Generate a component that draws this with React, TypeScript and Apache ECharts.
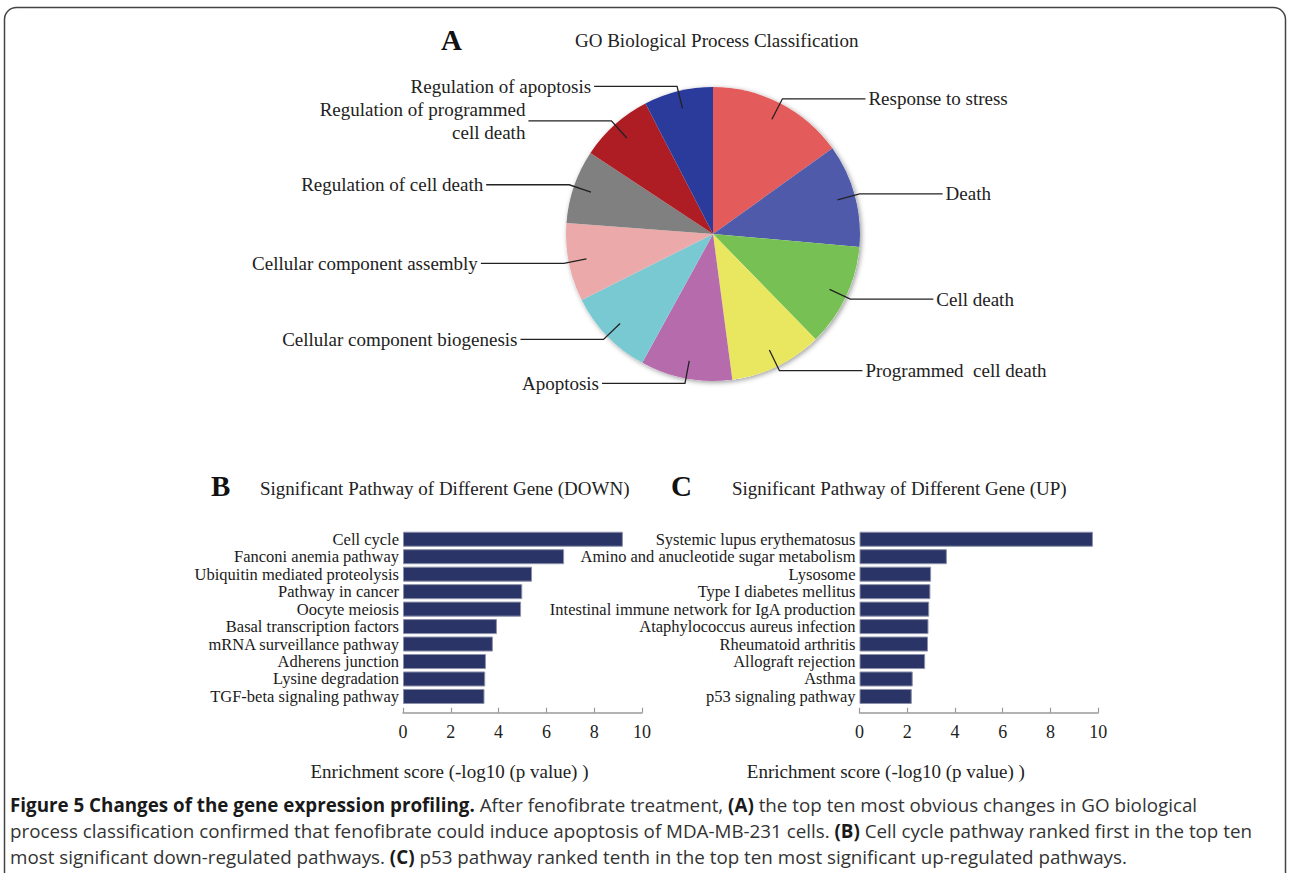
import React, { useEffect, useRef } from "react";
import * as echarts from "echarts";

const pieCategories = [
  "Response to stress",
  "Death",
  "Cell death",
  "Programmed  cell death",
  "Apoptosis",
  "Cellular component biogenesis",
  "Cellular component assembly",
  "Regulation of cell death",
  "Regulation of programmed\ncell death",
  "Regulation of apoptosis",
];
const pieValues = [15.1, 11.3, 11.3, 10.2, 10.1, 9.6, 8.6, 8.1, 8.1, 7.6];
const pieColors = [
  "#E35B5A", "#4F5BAA", "#76C054", "#E9E65F", "#B66BAC",
  "#79C9D3", "#EBA9A9", "#808080", "#AE1C24", "#2A3B9C",
];

const downCategories = [
  "Cell cycle",
  "Fanconi anemia pathway",
  "Ubiquitin mediated proteolysis",
  "Pathway in cancer",
  "Oocyte meiosis",
  "Basal transcription factors",
  "mRNA surveillance pathway",
  "Adherens junction",
  "Lysine degradation",
  "TGF-beta signaling pathway",
];
const downValues = [9.2, 6.74, 5.4, 4.99, 4.94, 3.93, 3.76, 3.47, 3.44, 3.41];

const upCategories = [
  "Systemic lupus erythematosus",
  "Amino and anucleotide sugar metabolism",
  "Lysosome",
  "Type I diabetes mellitus",
  "Intestinal immune network for IgA production",
  "Ataphylococcus aureus infection",
  "Rheumatoid arthritis",
  "Allograft rejection",
  "Asthma",
  "p53 signaling pathway",
];
const upValues = [9.78, 3.66, 3.0, 2.97, 2.92, 2.89, 2.87, 2.75, 2.23, 2.19];

const axisName = "Enrichment score (-log10 (p value) )";
const serif = "'Liberation Serif', 'Times New Roman', serif";
const sans = "'Open Sans', 'Noto Sans', sans-serif";

const caption =
  "{b|Figure 5 Changes of the gene expression profiling.} After fenofibrate treatment, {b|(A)} the top ten most obvious changes in GO biological\n" +
  "process classification confirmed that fenofibrate could induce apoptosis of MDA-MB-231 cells. {b|(B)} Cell cycle pathway ranked first in the top ten\n" +
  "most significant down-regulated pathways. {b|(C)} p53 pathway ranked tenth in the top ten most significant up-regulated pathways.";

function makeXAxis(gridIndex: number, shift: number) {
  return {
    gridIndex,
    type: "value",
    min: 0,
    max: 10,
    interval: 2,
    offset: 7.5,
    axisLine: { show: true, lineStyle: { color: "#9a9a9a", width: 1.5 } },
    axisTick: { show: true, inside: true, length: 5, lineStyle: { color: "#9a9a9a", width: 1.2 } },
    splitLine: { show: false },
    axisLabel: { fontFamily: serif, fontSize: 18, color: "#222", margin: 10 },
    name: axisName,
    nameLocation: "middle",
    nameGap: 49,
    nameTextStyle: { fontFamily: serif, fontSize: 19, color: "#222", padding: [0, shift, 0, 0] },
  };
}

function makeYAxis(gridIndex: number, cats: string[]) {
  return {
    gridIndex,
    type: "category",
    data: cats,
    inverse: true,
    axisLine: { show: false },
    axisTick: { show: false },
    splitLine: { show: false },
    axisLabel: { interval: 0, fontFamily: serif, fontSize: 16.5, color: "#1a1a1a", margin: 4 },
  };
}

function makeBar(idx: number, values: number[]) {
  return {
    type: "bar",
    xAxisIndex: idx,
    yAxisIndex: idx,
    data: values,
    barCategoryGap: "14%",
    silent: true,
    itemStyle: { color: "#2B3467", borderColor: "#8C90A8", borderWidth: 1 },
  };
}

export default function App() {
  const ref = useRef<HTMLDivElement>(null);
  useEffect(() => {
    if (!ref.current) return;
    const chart = echarts.init(ref.current, null, { renderer: "svg" });
    const pieData = pieCategories.map((name, i) => ({
      name,
      value: pieValues[i],
      itemStyle: { color: pieColors[i] },
    }));
    const labelData = pieCategories.map((name, i) => ({
      name,
      value: pieValues[i],
    }));
    const total = pieValues.reduce((a, b) => a + b, 0);
    chart.setOption({
      animation: false,
      backgroundColor: "#fff",
      title: [
        { text: "A", left: 441, top: 25, padding: 0, textStyle: { fontFamily: serif, fontWeight: "bold", fontSize: 29, color: "#111" } },
        { text: "GO Biological Process Classification", left: 575, top: 31, padding: 0, textStyle: { fontFamily: serif, fontWeight: "normal", fontSize: 19, color: "#222" } },
        { text: "B", left: 211, top: 471, padding: 0, textStyle: { fontFamily: serif, fontWeight: "bold", fontSize: 29, color: "#111" } },
        { text: "Significant Pathway of Different Gene (DOWN)", left: 260, top: 479, padding: 0, textStyle: { fontFamily: serif, fontWeight: "normal", fontSize: 19, color: "#222" } },
        { text: "C", left: 671, top: 471.5, padding: 0, textStyle: { fontFamily: serif, fontWeight: "bold", fontSize: 29, color: "#111" } },
        { text: "Significant Pathway of Different Gene (UP)", left: 732, top: 479, padding: 0, textStyle: { fontFamily: serif, fontWeight: "normal", fontSize: 19, color: "#222" } },
      ],
      grid: [
        { left: 403, top: 530.5, width: 239, height: 174.7 },
        { left: 859.5, top: 530.5, width: 238.7, height: 174.7 },
      ],
      xAxis: [makeXAxis(0, 146), makeXAxis(1, 186)],
      yAxis: [makeYAxis(0, downCategories), makeYAxis(1, upCategories)],
      series: [
        {
          type: "pie",
          center: [713, 234],
          radius: 147,
          silent: true,
          z: 1,
          label: { show: false },
          labelLine: { show: false },
          itemStyle: {
            color: "#ffffff",
            shadowBlur: 5,
            shadowColor: "rgba(0,0,0,0.4)",
            shadowOffsetX: 1.5,
            shadowOffsetY: 1.5,
          },
          data: [{ name: "", value: total }],
        },
        {
          type: "pie",
          center: [713, 234],
          radius: 147,
          startAngle: 90,
          clockwise: true,
          silent: true,
          z: 2,
          avoidLabelOverlap: false,
          label: { show: false },
          labelLine: { show: false },
          data: pieData,
        },
        {
          type: "pie",
          center: [713, 234],
          radius: 129,
          startAngle: 90,
          clockwise: true,
          silent: true,
          z: 5,
          avoidLabelOverlap: false,
          itemStyle: { color: "rgba(0,0,0,0)" },
          label: {
            show: true,
            position: "outside",
            alignTo: "none",
            distanceToLabelLine: 3,
            fontFamily: serif,
            fontSize: 19,
            lineHeight: 23,
            color: "#222",
          },
          labelLine: {
            show: true,
            length: 23,
            length2: 83,
            smooth: false,
            lineStyle: { color: "#222", width: 1.3 },
          },
          data: labelData,
        },
        makeBar(0, downValues),
        makeBar(1, upValues),
      ],
      graphic: [
        {
          type: "rect",
          shape: { x: 4.5, y: 7.5, width: 1281, height: 900, r: 12 },
          style: { fill: "none", stroke: "#444", lineWidth: 1.5 },
          silent: true,
        },
        {
          type: "text",
          x: 10,
          y: 792,
          silent: true,
          style: {
            text: caption,
            fontFamily: sans,
            fontSize: 18.8,
            lineHeight: 26,
            fill: "#333",
            verticalAlign: "top",
            rich: {
              b: { fontFamily: sans, fontSize: 18.8, lineHeight: 26, fontWeight: "bold", fill: "#1a1a1a" },
            },
          },
        },
      ],
    });
    return () => chart.dispose();
  }, []);
  return (
    <div
      ref={ref}
      style={{ position: "absolute", left: 0, top: 0, width: 1290, height: 873, background: "#fff" }}
    />
  );
}
